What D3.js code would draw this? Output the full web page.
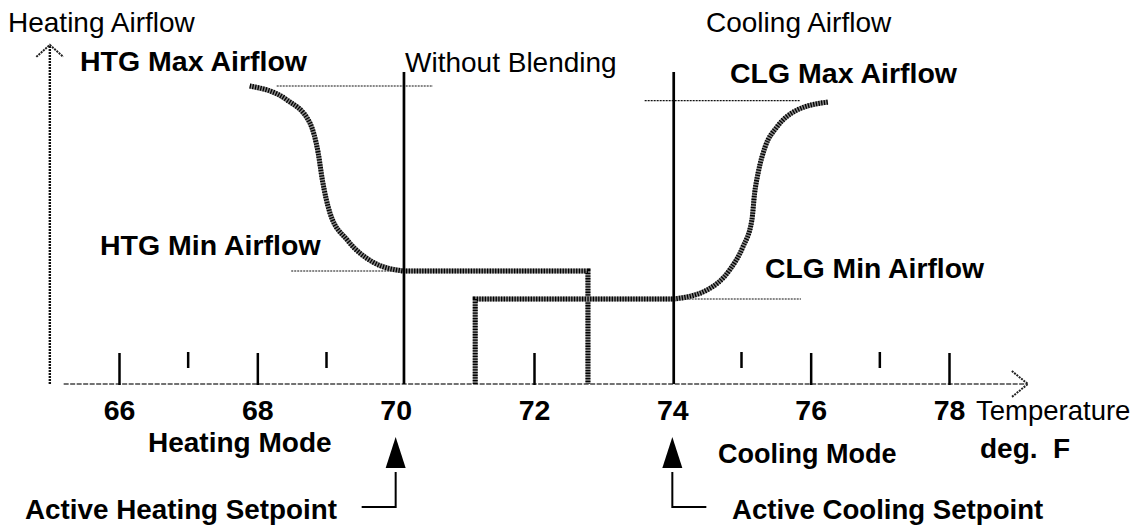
<!DOCTYPE html>
<html><head><meta charset="utf-8">
<script src="https://cdn.jsdelivr.net/npm/d3@7"></script>
<style>
html,body{margin:0;padding:0;background:#fff;}
svg{display:block;}
text{font-family:"Liberation Sans",Arial,sans-serif;font-size:28px;fill:#000;}
.b{font-weight:bold;font-size:28.5px;}
</style></head>
<body>
<svg id="c" width="1135" height="527"></svg>
<script>
// ---- data ----
const majorTicks = [66, 68, 70, 72, 74, 76, 78];
const minorTicks = [67, 69, 75, 77];
const tickLabels = ["66", "68", "70", "72", "74", "76", "78"];

const heatCurveTemp = [67.89, 68.43, 68.76, 68.88, 68.94, 69.05, 69.30, 69.67, 70.11];
const heatCurveFlow = [100, 95.3, 87.6, 77.5, 68.5, 57.4, 48.3, 40.9, 37.9];
const heatStepTemp = [70.11, 72.78, 72.78];
const heatStepFlow = [37.9, 37.9, 0];

const coolStepTemp = [71.15, 71.15, 74.02];
const coolStepFlow = [0, 28.5, 28.5];
const coolCurveTemp = [74.02, 74.50, 74.83, 75.02, 75.15, 75.19, 75.24, 75.34, 75.51, 75.80, 76.25];
const coolCurveFlow = [28.5, 31.5, 38.3, 46.0, 55.0, 64.1, 70.8, 79.5, 86.2, 91.9, 94.6];

const refLineTemps = [[68.28, 70.54], [68.49, 70.11], [73.60, 75.84], [74.02, 75.86]];
const refLineFlows = [100, 37.9, 95.1, 28.5];

const setpointLineTemps = [70.12, 74.02];
const setpointLineTop = 104.7;
const setpoints = [70, 74];

const axisTempRange = [65.2, 79.14];
const yAxisTemp = 65;
const yAxisTop = 113.8;

// ---- scales ----
const svg = d3.select("#c");
const x = d3.scaleLinear().domain([66, 78]).range([119, 949]);
const y = d3.scaleLinear().domain([0, 100]).range([384, 86]);

// reference thin dotted lines
refLineTemps.forEach((t, i) => {
  svg.append("line")
    .attr("x1", x(t[0])).attr("x2", x(t[1]))
    .attr("y1", y(refLineFlows[i])).attr("y2", y(refLineFlows[i]))
    .attr("stroke", "#111").attr("stroke-width", 1.1).attr("stroke-dasharray", "2,1");
});

// x axis dashed line
svg.append("line")
  .attr("x1", x(axisTempRange[0])).attr("x2", x(axisTempRange[1]))
  .attr("y1", y(0)).attr("y2", y(0))
  .attr("stroke", "#444").attr("stroke-width", 1.5).attr("stroke-dasharray", "5,1.5");
const xt = x(axisTempRange[1]), yt = y(0);
svg.append("path")
  .attr("d", `M${xt-16},${yt-13} L${xt},${yt} L${xt-16},${yt+13}`)
  .attr("fill", "none").attr("stroke", "#222").attr("stroke-width", 2).attr("stroke-dasharray", "2,1");

// y axis
const ya = x(yAxisTemp);
svg.append("line")
  .attr("x1", ya).attr("x2", ya).attr("y1", y(0)).attr("y2", y(yAxisTop))
  .attr("stroke", "#111").attr("stroke-width", 2.4).attr("stroke-dasharray", "2,1");
const yTop = y(yAxisTop);
svg.append("path")
  .attr("d", `M${ya-13.5},${yTop+12} L${ya},${yTop} L${ya+13.5},${yTop+12}`)
  .attr("fill", "none").attr("stroke", "#222").attr("stroke-width", 2).attr("stroke-dasharray", "2,1");

// major ticks via axis
const axis = d3.axisBottom(x).tickValues(majorTicks)
  .tickFormat((d, i) => tickLabels[i]).tickSize(-32).tickPadding(16);
const ag = svg.append("g").attr("transform", `translate(0,${y(0) + 1})`).call(axis);
ag.select(".domain").remove();
ag.selectAll(".tick line").attr("stroke", "#000").attr("stroke-width", 2.5)
  .filter(d => setpoints.includes(d)).remove();
ag.selectAll(".tick text")
  .attr("class", "b")
  .attr("font-family", null).attr("font-size", null)
  .style("font-family", '"Liberation Sans",Arial,sans-serif')
  .style("font-size", "28.5px").style("font-weight", "bold")
  .attr("dy", null).attr("y", 35).attr("fill", "#000");

// minor ticks
svg.selectAll(".minor").data(minorTicks).enter().append("line")
  .attr("x1", d => x(d)).attr("x2", d => x(d))
  .attr("y1", y(0) - 32).attr("y2", y(0) - 16)
  .attr("stroke", "#000").attr("stroke-width", 2.5);

// airflow curves
function hatched(pts, curve) {
  const gen = d3.line().x(d => x(d[0])).y(d => y(d[1])).curve(curve);
  const dd = gen(pts);
  svg.append("path").attr("d", dd).attr("fill", "none")
    .attr("stroke", "#8a8a8a").attr("stroke-width", 5);
  svg.append("path").attr("d", dd).attr("fill", "none")
    .attr("stroke", "#000").attr("stroke-width", 5).attr("stroke-dasharray", "1.3,1.4");
}
const zipPts = (a, b) => a.map((v, i) => [v, b[i]]);
hatched(zipPts(heatCurveTemp, heatCurveFlow), d3.curveMonotoneX);
hatched(zipPts(heatStepTemp, heatStepFlow), d3.curveLinear);
hatched(zipPts(coolStepTemp, coolStepFlow), d3.curveLinear);
hatched(zipPts(coolCurveTemp, coolCurveFlow), d3.curveMonotoneX);

// setpoint vertical lines
setpointLineTemps.forEach(t => {
  svg.append("line").attr("x1", x(t)).attr("x2", x(t))
    .attr("y1", y(setpointLineTop)).attr("y2", y(0))
    .attr("stroke", "#000").attr("stroke-width", 2.7);
});

// setpoint arrows
setpoints.forEach((t, i) => {
  const cx = x(t);
  svg.append("path").attr("d", `M${cx},437 L${cx+10},468 L${cx-10},468 Z`).attr("fill", "#000");
  const dir = i === 0 ? -1 : 1;
  svg.append("path").attr("d", `M${cx},472 L${cx},507 L${cx + dir*34},507`)
    .attr("fill", "none").attr("stroke", "#000").attr("stroke-width", 2);
});

// texts: [text, x, baseline, bold, size]
const labels = [
  ["Heating Airflow", 8, 32, false, 28],
  ["Cooling Airflow", 706, 32, false, 28],
  ["HTG Max Airflow", 80, 71, true, 28.5],
  ["Without Blending", 405, 72, false, 28],
  ["CLG Max Airflow", 730, 83, true, 28.5],
  ["HTG Min Airflow", 100, 255, true, 28.5],
  ["CLG Min Airflow", 765, 278, true, 28.3],
  ["Temperature", 976, 420, false, 27.5],
  ["deg.\u00a0\u00a0F", 980, 458, true, 28],
  ["Heating Mode", 148, 452, true, 28],
  ["Cooling Mode", 718, 463, true, 27],
  ["Active Heating Setpoint", 25, 519, true, 27.8],
  ["Active Cooling Setpoint", 732, 519, true, 27.6]
];
labels.forEach(l => {
  svg.append("text").attr("x", l[1]).attr("y", l[2])
    .attr("class", l[3] ? "b" : null)
    .style("font-size", l[4] + "px").text(l[0]);
});
</script>
</body></html>
